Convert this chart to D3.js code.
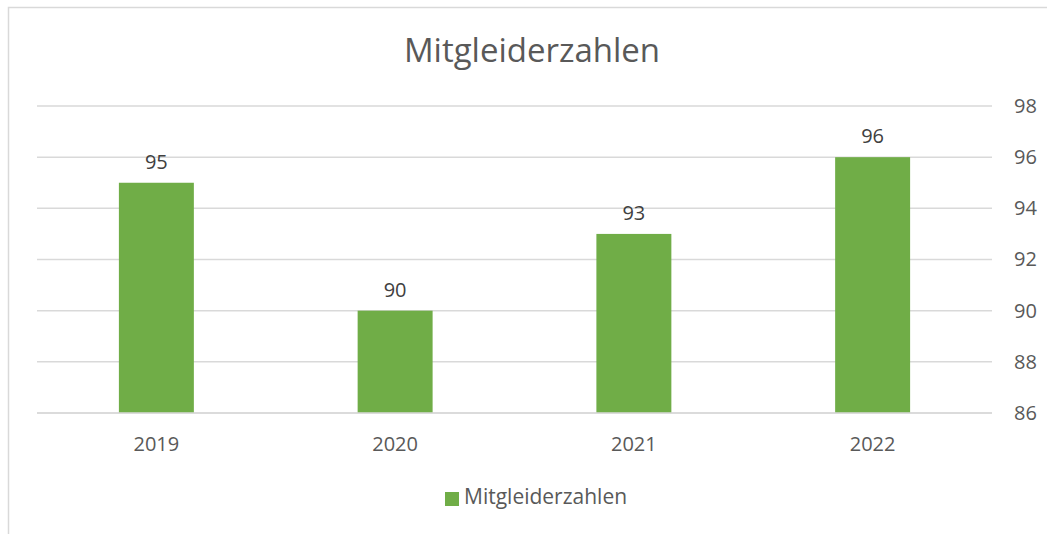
<!DOCTYPE html>
<html>
<head>
<meta charset="utf-8">
<script src="https://cdn.jsdelivr.net/npm/d3@7"></script>
<style>
  html, body { margin: 0; padding: 0; background: #fff; }
  svg text { font-family: "Open Sans", sans-serif; }
</style>
</head>
<body>
<div id="chart"></div>
<script>
const years = ["2019", "2020", "2021", "2022"];
const members = [95, 90, 93, 96];
const yTicks = [86, 88, 90, 92, 94, 96, 98];
const seriesName = "Mitgleiderzahlen";

const width = 1047, height = 534;
const plot = { left: 37, right: 992, top: 106, bottom: 413 };

const svg = d3.select("#chart").append("svg")
    .attr("width", width)
    .attr("height", height);

// chart frame (runs off the right and bottom edges)
svg.append("rect")
    .attr("x", 8.5).attr("y", 7.5)
    .attr("width", width + 20).attr("height", height + 20)
    .attr("fill", "#fff")
    .attr("stroke", "#d9d9d9")
    .attr("stroke-width", 1.5);

const xScale = d3.scaleBand()
    .domain(years)
    .range([plot.left, plot.right])
    .padding(0);

const yScale = d3.scaleLinear()
    .domain([86, 98])
    .range([plot.bottom, plot.top]);

// gridlines
svg.append("g")
    .selectAll("line")
    .data(yTicks)
    .enter()
    .append("line")
    .attr("x1", plot.left)
    .attr("x2", plot.right)
    .attr("y1", d => yScale(d))
    .attr("y2", d => yScale(d))
    .attr("stroke", "#d9d9d9")
    .attr("stroke-width", 1.5);

// right axis labels
const yAxis = d3.axisRight(yScale).tickValues(yTicks).tickSize(0).tickPadding(22);
svg.append("g")
    .attr("transform", `translate(${plot.right},0)`)
    .call(yAxis)
    .call(g => g.select(".domain").remove())
    .selectAll("text")
    .style("font-size", "20px")
    .attr("fill", "#595959");

// bars
const barW = xScale.bandwidth() * 0.314;
svg.selectAll("rect.bar")
    .data(years.map((y, i) => ({ year: y, value: members[i] })))
    .enter()
    .append("rect")
    .attr("class", "bar")
    .attr("x", d => xScale(d.year) + (xScale.bandwidth() - barW) / 2)
    .attr("width", barW)
    .attr("y", d => yScale(d.value))
    .attr("height", d => plot.bottom - yScale(d.value))
    .attr("fill", "#70ad47");

// baseline
svg.append("line")
    .attr("x1", plot.left).attr("x2", plot.right)
    .attr("y1", plot.bottom).attr("y2", plot.bottom)
    .attr("stroke", "#d9d9d9")
    .attr("stroke-width", 1.5);

// data labels
svg.selectAll("text.label")
    .data(years.map((y, i) => ({ year: y, value: members[i] })))
    .enter()
    .append("text")
    .attr("class", "label")
    .attr("x", d => xScale(d.year) + xScale.bandwidth() / 2)
    .attr("y", d => yScale(d.value) - 14)
    .attr("text-anchor", "middle")
    .style("font-size", "20px")
    .attr("fill", "#404040")
    .text(d => d.value);

// x axis labels
const xAxis = d3.axisBottom(xScale).tickSize(0).tickPadding(24);
svg.append("g")
    .attr("transform", `translate(0,${plot.bottom})`)
    .call(xAxis)
    .call(g => g.select(".domain").remove())
    .selectAll("text")
    .style("font-size", "20px")
    .attr("fill", "#595959");

// title
svg.append("text")
    .attr("x", 532)
    .attr("y", 62)
    .attr("text-anchor", "middle")
    .style("font-size", "33px")
    .attr("fill", "#595959")
    .text(seriesName);

// legend
const legend = svg.append("g").attr("transform", "translate(445,492)");
legend.append("rect")
    .attr("width", 14).attr("height", 14)
    .attr("fill", "#70ad47");
legend.append("text")
    .attr("x", 19).attr("y", 12)
    .style("font-size", "21px")
    .attr("fill", "#595959")
    .text(seriesName);
</script>
</body>
</html>
